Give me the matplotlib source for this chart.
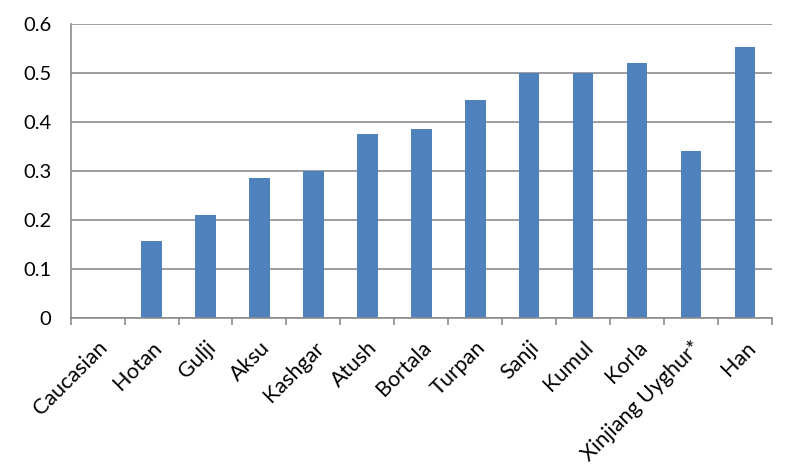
import numpy as np
import matplotlib
matplotlib.use('Agg')
import matplotlib.pyplot as plt

# data
groups = ['Caucasian', 'Hotan', 'Gulji', 'Aksu', 'Kashgar', 'Atush', 'Bortala',
          'Turpan', 'Sanji', 'Kumul', 'Korla', 'Xinjiang Uyghur*', 'Han']
values = [0.0, 0.158, 0.21, 0.285, 0.30, 0.375, 0.385,
          0.445, 0.50, 0.50, 0.52, 0.341, 0.554]
yticks = [0, 0.1, 0.2, 0.3, 0.4, 0.5, 0.6]
ytick_labels = ['0', '0.1', '0.2', '0.3', '0.4', '0.5', '0.6']

plt.rcParams['font.family'] = ['Lato', 'DejaVu Sans']

fig = plt.figure(figsize=(7.85, 4.65), dpi=100)
ax = fig.add_axes([0.09, 0.316, 0.8934, 0.632])

x = np.arange(len(groups))
ax.bar(x, values, width=0.38, color='#4F81BD', zorder=3)

ax.set_xlim(-0.5, len(groups) - 0.5)
ax.set_ylim(0, 0.6)
ax.set_yticks(yticks)
ax.set_yticklabels(ytick_labels, fontsize=14.5)
ax.yaxis.grid(True, color='#8C8C8C', linewidth=1.2, zorder=0)
ax.tick_params(axis='y', length=0, pad=14)

# category labels at centers, tick marks at boundaries
ax.set_xticks(x)
ax.set_xticklabels(groups, rotation=45, ha='right', rotation_mode='anchor', fontsize=15.5)
ax.tick_params(axis='x', which='major', length=0, pad=14)
ax.set_xticks(np.arange(-0.5, len(groups)), minor=True)
ax.tick_params(axis='x', which='minor', length=5, width=1.2, color='#8C8C8C')

for side in ['top', 'right']:
    ax.spines[side].set_visible(False)
for side in ['left', 'bottom']:
    ax.spines[side].set_color('#8C8C8C')
    ax.spines[side].set_linewidth(1.2)
    ax.spines[side].set_zorder(4)

fig.savefig('out.png', dpi=100)
